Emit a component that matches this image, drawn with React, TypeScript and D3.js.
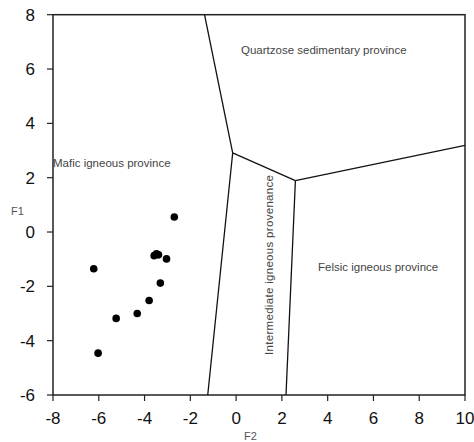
import React from "react";
import * as d3 from "d3";

const sampleF2 = [-6.22, -6.03, -5.24, -4.32, -3.80, -3.31, -3.58, -3.48, -3.39, -3.04, -2.70];
const sampleF1 = [-1.35, -4.46, -3.18, -3.00, -2.52, -1.88, -0.87, -0.80, -0.84, -0.99, 0.55];

const xTicks = [-8, -6, -4, -2, 0, 2, 4, 6, 8, 10];
const yTicks = [-6, -4, -2, 0, 2, 4, 6, 8];

// boundary segments [x, y] in data units
const boundaryTop: [number, number][] = [[-1.38, 8], [-0.15, 2.91]];
const boundaryLeftDown: [number, number][] = [[-0.15, 2.91], [-1.24, -6]];
const boundaryMid: [number, number][] = [[-0.15, 2.91], [2.59, 1.89]];
const boundaryRight: [number, number][] = [[2.59, 1.89], [10, 3.19]];
const boundaryRightDown: [number, number][] = [[2.59, 1.89], [2.18, -6]];

const regionLabels = ["Mafic igneous province", "Quartzose sedimentary province", "Felsic igneous province", "Intermediate igneous provenance"];

export default function App() {
  const x = d3.scaleLinear().domain([-8, 10]).range([53, 465]);
  const y = d3.scaleLinear().domain([-6, 8]).range([395, 14.7]);
  const line = d3.line<[number, number]>().x(d => x(d[0])).y(d => y(d[1]));
  const segs = [boundaryTop, boundaryLeftDown, boundaryMid, boundaryRight, boundaryRightDown];
  const font = "'Liberation Sans', Arial, sans-serif";
  return (
    <svg width={474} height={442} style={{ position: "absolute", left: 0, top: 0, background: "#fff" }}>
      <rect x={x(-8)} y={y(8)} width={x(10) - x(-8)} height={y(-6) - y(8)} fill="none" stroke="#222" strokeWidth={1.5} />
      {segs.map((s, i) => (
        <path key={i} d={line(s) || ""} fill="none" stroke="#111" strokeWidth={1.3} />
      ))}
      {xTicks.map(t => (
        <g key={"x" + t}>
          <line x1={x(t)} x2={x(t)} y1={y(-6)} y2={y(-6) + 6} stroke="#222" strokeWidth={1.2} />
          <text x={x(t)} y={424} textAnchor="middle" fontSize={17} fontFamily={font} fill="#111">{t}</text>
        </g>
      ))}
      {yTicks.map(t => (
        <g key={"y" + t}>
          <line x1={x(-8) - 6} x2={x(-8)} y1={y(t)} y2={y(t)} stroke="#222" strokeWidth={1.2} />
          <text x={35} y={y(t) + 6} textAnchor="end" fontSize={17} fontFamily={font} fill="#111">{t}</text>
        </g>
      ))}
      {sampleF2.map((v, i) => (
        <circle key={i} cx={x(v)} cy={y(sampleF1[i])} r={3.8} fill="#000" />
      ))}
      <text x={53} y={166.5} fontSize={11.5} fontFamily={font} fill="#444">{regionLabels[0]}</text>
      <text x={241} y={54} fontSize={11.5} fontFamily={font} fill="#444">{regionLabels[1]}</text>
      <text x={318} y={270.5} fontSize={11.5} fontFamily={font} fill="#444">{regionLabels[2]}</text>
      <text transform={`translate(272.5,355) rotate(-90)`} fontSize={11.5} fontFamily={font} fill="#444" textLength={180} lengthAdjust="spacing">{regionLabels[3]}</text>
      <text x={11} y={215} fontSize={11} fontFamily={font} fill="#555">F1</text>
      <text x={244} y={440} fontSize={11} fontFamily={font} fill="#555">F2</text>
    </svg>
  );
}
